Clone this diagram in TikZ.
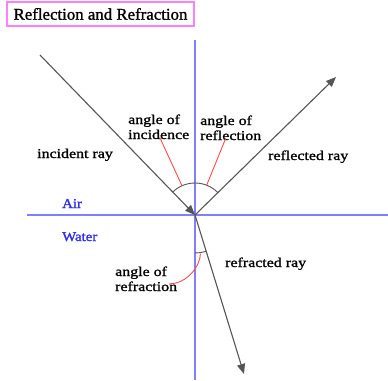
\documentclass[tikz,border=0pt]{standalone}
\usepackage{fontspec}
\usepackage{xcolor}
\usepackage{tikz}
\usetikzlibrary{arrows.meta,positioning,calc}
\newfontfamily\bodyfont{Liberation Serif}[FakeStretch=1.18,FakeBold=1.3]
\newfontfamily\mediumfont{Liberation Serif}[FakeStretch=1.1,FakeBold=1.8]
\newfontfamily\titlefont{Liberation Serif}[FakeStretch=1.02,FakeBold=1.3]
\definecolor{axisblue}{HTML}{8080FF}
\definecolor{mediumblue}{HTML}{3030E8}
\definecolor{raygray}{HTML}{555555}
\definecolor{leadred}{HTML}{FF4A4A}
\definecolor{titlepink}{HTML}{FF80FF}

\begin{document}
\begin{tikzpicture}[x=1pt,y=-1pt,font={\bodyfont\fontsize{13.5}{15}\selectfont}]
          \tikzstyle{lbl}=[inner sep=0pt,anchor=base west,align=left]
          \tikzstyle{medium}=[lbl,text=mediumblue,font={\mediumfont\fontsize{13.5}{15}\selectfont}]
          \tikzstyle{axis}=[draw=axisblue,line width=1.6pt]
          \tikzstyle{ray}=[draw=raygray,line width=1.1pt]
          \tikzstyle{tip}=[-{Triangle[length=10pt,width=8pt]}]
          \tikzstyle{leader}=[draw=leadred,line width=0.9pt]
          \useasboundingbox (0,0) rectangle (388,380);
          \node[draw=titlepink,line width=1.2pt,minimum width=187pt,minimum height=24pt,inner sep=0pt,
            font={\titlefont\fontsize{16.5}{18}\selectfont}] (title) at (100.5,14) {Reflection and Refraction};
          % surface and normal
          \coordinate (O) at (195,215);
          \coordinate (normtop) at (195,40);
          \coordinate (normbot) at (195,380);
          \coordinate (surfl) at (27,215);
          \coordinate (surfr) at (388,215);
          \draw[axis] (surfl) -- (surfr);
          \draw[axis] (normtop) -- (normbot);
          \node[medium] (air) at (62,208) {Air};
          \node[medium] (water) at (62,241) {Water};
          % rays
          \coordinate (incstart) at (40,55);
          \coordinate (reflend) at (336,77);
          \coordinate (refrend) at (244,374);
          \draw[ray,tip] (incstart) -- (O);
          \draw[ray,tip] (O) -- (reflend);
          \draw[ray,tip] (O) -- (refrend);
          % angle arcs
          \draw[ray,line width=0.9pt] ($(O)+(-134.1:32)$) arc[start angle=-134.1,end angle=-44.4,radius=32];
          \draw[ray,line width=0.9pt] ($(O)+(90:38)$) arc[start angle=90,end angle=73.1,radius=38];
          \coordinate (incpt) at ($(O)+(-114:32)$);
          \coordinate (reflpt) at ($(O)+(-68.6:32)$);
          \coordinate (refrpt) at ($(O)+(82:39)$);
          % labels
          \node[lbl] (incray) at (37,158) {incident ray};
          \node[lbl] (reflray) at (268,160) {reflected ray};
          \node[lbl] (refrray) at (225,267) {refracted ray};
          \node[lbl] (incang) at (128,139) {angle of\\incidence};
          \node[lbl] (reflang) at (200,140) {angle of\\reflection};
          \node[lbl] (refrang) at (115,291) {angle of\\refraction};
          % leaders
          \draw[leader] ([xshift=1pt,yshift=2pt]incang.south) -- (incpt);
          \draw[leader] ([xshift=-5pt,yshift=2pt]reflang.south) -- (reflpt);
          \draw[leader] ([xshift=-8pt,yshift=-5pt]refrang.east) .. controls +(18,0) and +(0,12) .. (refrpt);
        \end{tikzpicture}
\end{document}
